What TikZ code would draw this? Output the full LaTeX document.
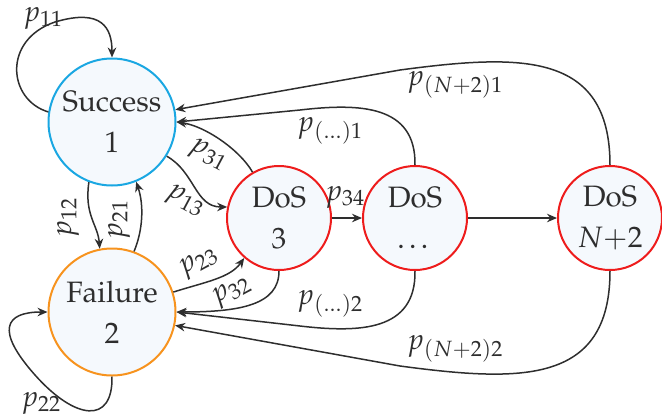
\documentclass[tikz,border=0pt]{standalone}
\usepackage[T1]{fontenc}
\usepackage{mathpazo}
\usetikzlibrary{arrows.meta}
\definecolor{ink}{HTML}{2E2E2E}
\definecolor{statefill}{HTML}{F5F9FD}
\definecolor{succline}{HTML}{1AA7E2}
\definecolor{failline}{HTML}{F7931E}
\definecolor{dosline}{HTML}{EE1C1C}
\begin{document}
\begin{tikzpicture}[x=1pt,y=-1pt,
  state/.style={circle, draw, line width=2pt, fill=statefill, inner sep=0pt,
    align=center, text=ink, font=\fontsize{29.5}{41}\selectfont},
  bigstate/.style={state, minimum size=127pt},
  smallstate/.style={state, minimum size=104pt},
  edge/.style={draw=ink, line width=1.5pt, -{Stealth[length=10pt,width=8.5pt]}},
  lab/.style={text=ink, font=\fontsize{29}{30}\selectfont, inner sep=0pt}]
\useasboundingbox (0,0) rectangle (662,416);

% states
\node[bigstate, draw=succline] (S) at (112,122) {Success\\1};
\node[bigstate, draw=failline] (F) at (112,312) {Failure\\2};
\node[smallstate, draw=dosline] (D3) at (279,218) {DoS\\3};
\node[smallstate, draw=dosline] (Dd) at (415,218) {DoS\\\dots};
\node[smallstate, draw=dosline] (DN) at (610,218) {DoS\\$N{+}2$};

% self loops
\draw[edge] (S.171) .. controls (8,100) and (2,40) .. (55,22)
  .. controls (102,8) and (112,28) .. (S.north);
\draw[edge] (F.south) .. controls (113,425) and (75,420) .. (35,375)
  .. controls (-5,330) and (5,312) .. (F.west);

% success <-> failure
\draw[edge] (S.249) .. controls (84,215) and (98,225) .. (F.101);
\draw[edge] (F.70) .. controls (143,230) and (144,205) .. (S.292);

% success / failure <-> DoS 3
\draw[edge] (S.328) .. controls (195,172) and (195,207) .. (D3.168);
\draw[edge] (D3.120) .. controls (240,150) and (205,126) .. (S.east);
\draw[edge] (F.18) .. controls (205,282) and (230,278) .. (D3.229);
\draw[edge] (D3.south) .. controls (279,305) and (240,312) .. (F.east);

% DoS chain
\draw[edge] (D3.east) -- (Dd.west);
\draw[edge] (Dd.east) -- (DN.west);

% returns from later DoS states
\draw[edge] (Dd.north) .. controls (416,105) and (360,103) .. (300,110) -- (S.east);
\draw[edge] (Dd.south) .. controls (416,331) and (360,333) .. (300,326) -- (F.east);
\draw[edge] (DN.north) .. controls (610,51) and (520,54) .. (400,70) -- (S.11);
\draw[edge] (DN.south) .. controls (610,385) and (520,382) .. (400,366) -- (F.348);

% transition labels
\node[lab] (l11) at (43,18) {$p_{11}$};
\node[lab] (l22) at (41,403) {$p_{22}$};
\node[lab, rotate=90] (l12) at (68,218) {$p_{12}$};
\node[lab, rotate=90] (l21) at (119,220) {$p_{21}$};
\node[lab, rotate=-28] (l13) at (185,201) {$p_{13}$};
\node[lab, rotate=-28] (l31) at (208,155) {$p_{31}$};
\node[lab, rotate=28] (l23) at (199,263) {$p_{23}$};
\node[lab, rotate=28] (l32) at (232,292) {$p_{32}$};
\node[lab] (l34) at (345,197) {$p_{34}$};
\node[lab] (ld1) at (330,131) {$p_{(\dots)1}$};
\node[lab] (ld2) at (330,304) {$p_{(\dots)2}$};
\node[lab] (lN1) at (455,85) {$p_{(N{+}2)1}$};
\node[lab] (lN2) at (455,349) {$p_{(N{+}2)2}$};
\end{tikzpicture}
\end{document}
